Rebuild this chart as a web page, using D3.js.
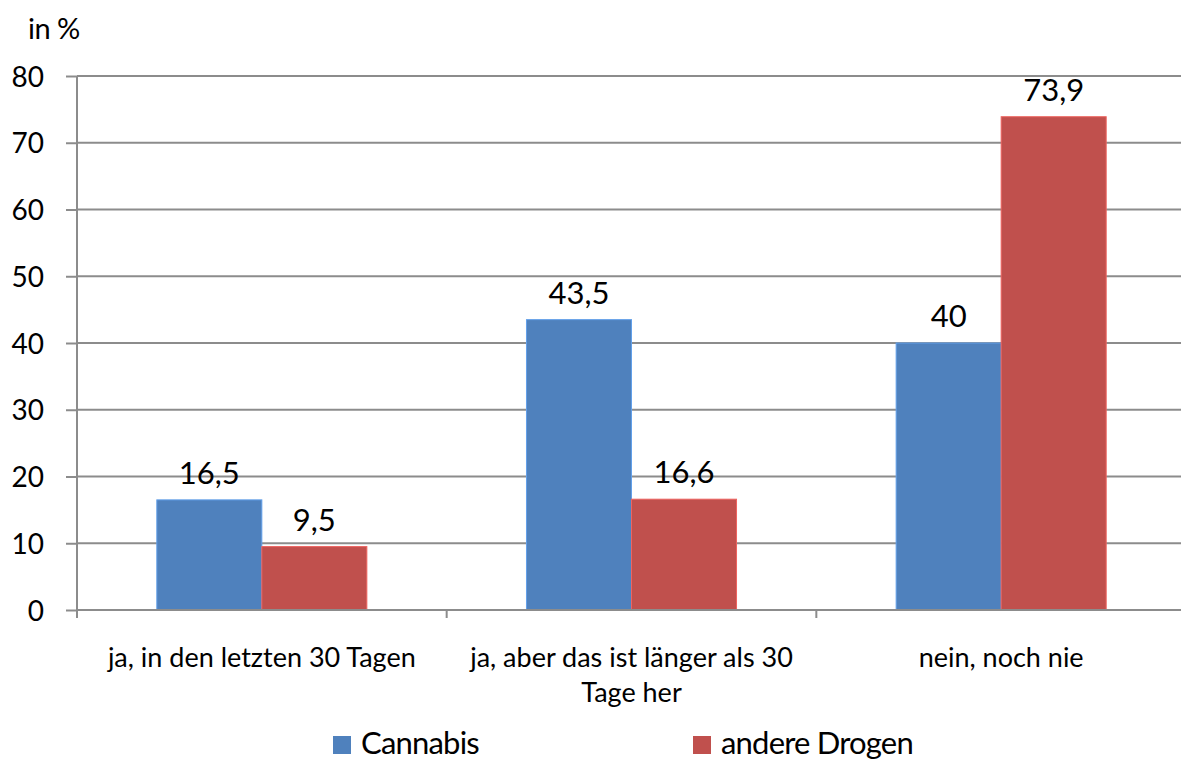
<!DOCTYPE html>
<html><head><meta charset="utf-8">
<script src="https://cdn.jsdelivr.net/npm/d3@7"></script>
<style>body{margin:0;background:#fff}svg{display:block}text{font-family:Lato,"Open Sans",sans-serif;fill:#000}</style>
</head><body><svg id="c" width="1181" height="761"></svg>
<script>
const categories = [["ja, in den letzten 30 Tagen"], ["ja, aber das ist länger als 30", "Tage her"], ["nein, noch nie"]];
const seriesNames = ["Cannabis", "andere Drogen"];
const cannabis = [16.5, 43.5, 40];
const andereDrogen = [9.5, 16.6, 73.9];
const yTicks = [0, 10, 20, 30, 40, 50, 60, 70, 80];
const colors = ["#4f81bd", "#c0504d"];

const svg = d3.select("#c");
const L = 77, R = 1186, T = 76, B = 610;
const x0 = d3.scaleBand().domain(d3.range(categories.length)).range([L, R]).padding(0);
const x1 = d3.scaleBand().domain(seriesNames).range([0, x0.bandwidth()]).paddingInner(0).paddingOuter(0.76);
const y = d3.scaleLinear().domain([0, 80]).range([B, T]);

// gridlines
svg.append("g").selectAll("line").data(yTicks.filter(d => d > 0)).join("line")
  .attr("x1", L).attr("x2", R).attr("y1", d => y(d)).attr("y2", d => y(d))
  .attr("stroke", "#8c8c8c").attr("stroke-width", 2);

// y axis
const ya = svg.append("g").attr("transform", `translate(${L},0)`)
  .call(d3.axisLeft(y).tickValues(yTicks).tickSize(11).tickPadding(22).tickFormat(d3.format("d")));
ya.select(".domain").attr("stroke", "#8c8c8c").attr("stroke-width", 2).attr("d", `M0,${T}V${B}`);
ya.selectAll(".tick line").attr("stroke", "#8c8c8c").attr("stroke-width", 2);
ya.selectAll(".tick text").attr("font-size", 28).attr("font-family", "Lato").attr("fill", "#000").attr("dy", "0.36em");

svg.append("text").attr("x", 28).attr("y", 39).attr("font-size", 29).attr("letter-spacing", -0.5).text("in %");

const data = seriesNames.map((s, si) => ({name: s, values: si === 0 ? cannabis : andereDrogen, color: colors[si]}));

const bars = svg.append("g");
data.forEach(s => {
  bars.selectAll(null).data(s.values).join("rect")
    .attr("x", (d, i) => x0(i) + x1(s.name))
    .attr("y", d => y(d))
    .attr("width", x1.bandwidth())
    .attr("height", d => y(0) - y(d))
    .attr("fill", s.color)
    .attr("stroke", d3.color(s.color).brighter(0.6)).attr("stroke-width", 1);
  bars.selectAll(null).data(s.values).join("text")
    .attr("x", (d, i) => x0(i) + x1(s.name) + x1.bandwidth() / 2)
    .attr("y", d => y(d) - 16)
    .attr("text-anchor", "middle").attr("font-size", 31)
    .text(d => String(d).replace(".", ","));
});

// x axis
svg.append("line").attr("x1", L).attr("x2", R).attr("y1", B).attr("y2", B)
  .attr("stroke", "#8c8c8c").attr("stroke-width", 2);
const xt = d3.range(categories.length + 1).map(i => i < categories.length ? x0(i) : R);
svg.append("g").selectAll("line").data(xt).join("line")
  .attr("x1", d => d).attr("x2", d => d).attr("y1", B).attr("y2", B + 8)
  .attr("stroke", "#8c8c8c").attr("stroke-width", 2);

svg.append("g").selectAll("text").data(categories).join("text")
  .attr("x", (d, i) => x0(i) + x0.bandwidth() / 2)
  .attr("y", 667).attr("text-anchor", "middle").attr("font-size", 27)
  .selectAll("tspan").data(d => d).join("tspan")
  .attr("x", function() { return d3.select(this.parentNode).attr("x"); })
  .attr("dy", (d, i) => i === 0 ? 0 : 35).text(d => d);

// legend
const legX = [333, 693];
const lg = svg.append("g");
data.forEach((s, i) => {
  lg.append("rect").attr("x", legX[i]).attr("y", 736).attr("width", 18).attr("height", 18).attr("fill", s.color);
  lg.append("text").attr("x", legX[i] + 28).attr("y", 754).attr("font-size", 31).attr("letter-spacing", -0.8).text(s.name);
});
</script></body></html>
